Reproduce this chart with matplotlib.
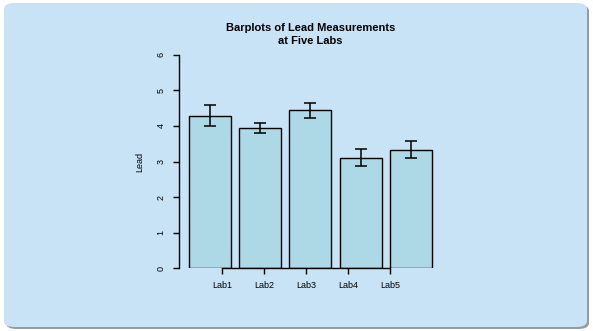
import numpy as np
import matplotlib
matplotlib.use("Agg")
import matplotlib.pyplot as plt
from matplotlib.patches import FancyBboxPatch

plt.rcParams['font.family'] = ['Liberation Sans', 'DejaVu Sans']

labs = ["Lab1", "Lab2", "Lab3", "Lab4", "Lab5"]
lead_mean = [4.29, 3.95, 4.44, 3.11, 3.33]
lead_err = [0.29, 0.14, 0.21, 0.24, 0.24]
tick_pos = [1, 2, 3, 4, 5]
y_ticks = [0, 1, 2, 3, 4, 5, 6]

W, H = 593, 331
fig = plt.figure(figsize=(W / 100, H / 100), dpi=100)
fig.patch.set_facecolor("white")

# Rounded panel with a soft drop shadow, kept behind the axes
shadow = FancyBboxPatch((6 / W, 2 / H), 583 / W, 324 / H,
                        boxstyle="round,pad=0,rounding_size=0.018",
                        transform=fig.transFigure, facecolor="#9a9a9a",
                        edgecolor="none", zorder=-2)
panel = FancyBboxPatch((4 / W, 4 / H), 583 / W, 324 / H,
                       boxstyle="round,pad=0,rounding_size=0.018",
                       transform=fig.transFigure, facecolor="#C8E3F5",
                       edgecolor="none", zorder=-1)
fig.patches.extend([shadow, panel])

left, right = 178.8, 441.8
bottom, top = 268.3, 54.7
ax = fig.add_axes([left / W, (H - bottom) / H, (right - left) / W, (bottom - top) / H])
ax.set_facecolor("none")

# Bar centres follow R's barplot spacing (width 1, space 0.2)
centers = 0.7 + 1.2 * np.arange(len(labs))
ax.bar(centers, lead_mean, width=1.0, color="#ADD8E6", edgecolor="black",
       linewidth=1.0, zorder=2)
ax.errorbar(centers, lead_mean, yerr=lead_err, fmt="none", ecolor="black",
            elinewidth=1.1, capsize=4.6, capthick=1.1, zorder=3)

ax.set_xlim(-0.032, 6.232)
ax.set_ylim(0, 6)

for s in ("top", "right"):
    ax.spines[s].set_visible(False)
ax.spines["left"].set_bounds(0, 6)
ax.spines["left"].set_linewidth(1.0)
ax.spines["bottom"].set_position(("data", 0))
ax.spines["bottom"].set_bounds(1, 5)
ax.spines["bottom"].set_linewidth(1.0)
ax.spines["bottom"].set_zorder(4)

ax.set_yticks(y_ticks)
ax.set_yticklabels([str(v) for v in y_ticks], rotation=90, va="center")
ax.set_xticks(tick_pos)
ax.set_xticklabels(labs)
ax.tick_params(axis="both", direction="out", length=4.5, width=1.0,
               labelsize=6.5, colors="black")
ax.tick_params(axis="x", pad=5)
ax.tick_params(axis="y", pad=5)

fig.text(139.5 / W, 1 - 162 / H, "Lead", rotation=90, ha="center", va="center",
         fontsize=6.5)
fig.text(310.3 / W, 1 - 28.3 / H, "Barplots of Lead Measurements",
         ha="center", va="center", fontsize=8, fontweight="bold")
fig.text(310.3 / W, 1 - 40.7 / H, "at Five Labs",
         ha="center", va="center", fontsize=8, fontweight="bold")

fig.savefig("out.png", dpi=100, facecolor="white")
